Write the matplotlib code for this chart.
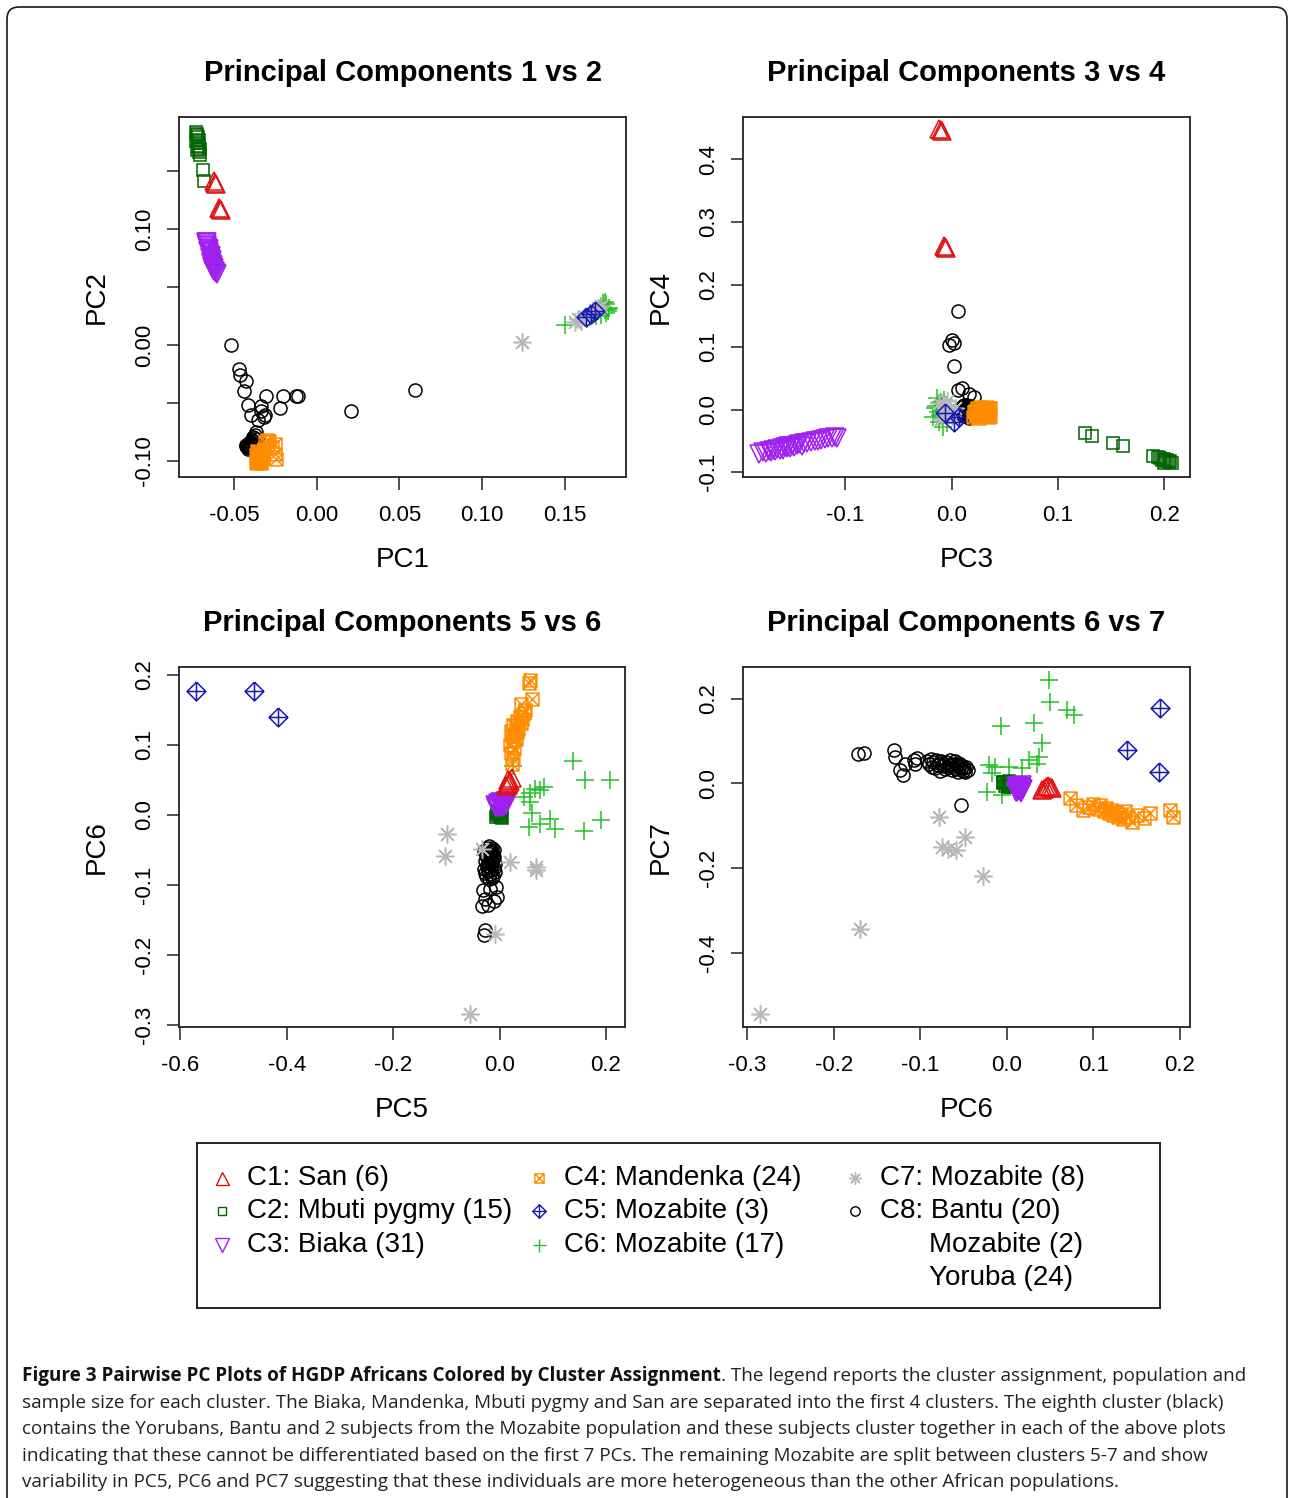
import numpy as np
import matplotlib.pyplot as plt
from matplotlib.path import Path
from matplotlib.patches import FancyBboxPatch

plt.rcParams['font.family'] = ['Liberation Sans', 'DejaVu Sans']

W, H = 1289, 1498

# PC scores per cluster (PC6 is shared by panels 3 and 4)
# C1: San (6)
c1_pc1 = [-0.0620, -0.0615, -0.0612, -0.0590, -0.0585, -0.0582]
c1_pc2 = [0.141, 0.140, 0.139, 0.118, 0.117, 0.116]
c1_pc3 = [-0.012, -0.010, -0.009, -0.007, -0.006, -0.005]
c1_pc4 = [0.449, 0.447, 0.445, 0.262, 0.260, 0.258]
c1_pc5 = [0.016, 0.020, 0.024, 0.012, 0.015, 0.018]
c1_pc6 = [0.050, 0.048, 0.052, 0.041, 0.043, 0.045]
c1_pc7 = [-0.008, -0.006, -0.010, -0.016, -0.012, -0.009]

# C2: Mbuti pygmy (15)
c2_pc1 = [-0.0730, -0.0726, -0.0722, -0.0718, -0.0714, -0.0728, -0.0720, -0.0712,
          -0.0716, -0.0708, -0.0724, -0.0710, -0.0705, -0.0690, -0.0682]
c2_pc2 = [0.184, 0.182, 0.181, 0.179, 0.177, 0.176, 0.174, 0.172, 0.171, 0.169,
          0.168, 0.166, 0.164, 0.151, 0.141]
c2_pc3 = [0.125, 0.132, 0.152, 0.161, 0.189, 0.194, 0.196, 0.198, 0.200, 0.201,
          0.203, 0.204, 0.205, 0.207, 0.200]
c2_pc4 = [-0.037, -0.042, -0.054, -0.058, -0.074, -0.076, -0.078, -0.080, -0.079,
          -0.082, -0.081, -0.084, -0.083, -0.085, -0.086]
c2_pc5 = [-0.006, -0.004, -0.002, 0.000, 0.002, 0.004, 0.005, -0.005, -0.001, 0.001,
          0.003, -0.003, 0.000, 0.002, -0.002]
c2_pc6 = [-0.004, 0.000, 0.004, -0.002, 0.002, 0.006, -0.005, 0.001, 0.003, 0.008,
          -0.003, 0.005, 0.010, -0.001, 0.002]
c2_pc7 = [0.004, -0.002, 0.001, -0.006, 0.005, -0.004, 0.002, -0.008, 0.000, -0.003,
          0.003, -0.009, -0.001, 0.004, -0.005]

# C3: Biaka (31)
c3_pc1 = [-0.0672, -0.0667, -0.0664, -0.0661, -0.0663, -0.0657, -0.0659, -0.0653,
          -0.0656, -0.0649, -0.0651, -0.0646, -0.0648, -0.0642, -0.0644, -0.0639,
          -0.0641, -0.0636, -0.0638, -0.0633, -0.0635, -0.0629, -0.0631, -0.0626,
          -0.0628, -0.0621, -0.0623, -0.0616, -0.0618, -0.0611, -0.0606]
c3_pc2 = [0.089, 0.088, 0.089, 0.086, 0.085, 0.084, 0.082, 0.083, 0.081, 0.079,
          0.080, 0.078, 0.076, 0.077, 0.075, 0.074, 0.072, 0.073, 0.071, 0.070,
          0.068, 0.069, 0.067, 0.066, 0.065, 0.066, 0.064, 0.063, 0.064, 0.062, 0.061]
c3_pc3 = [-0.181, -0.178, -0.175, -0.172, -0.170, -0.168, -0.166, -0.164, -0.162,
          -0.160, -0.159, -0.157, -0.155, -0.154, -0.152, -0.150, -0.148, -0.146,
          -0.144, -0.141, -0.139, -0.136, -0.132, -0.129, -0.126, -0.123, -0.119,
          -0.116, -0.113, -0.110, -0.108]
c3_pc4 = [-0.071, -0.068, -0.070, -0.066, -0.068, -0.064, -0.067, -0.063, -0.065,
          -0.061, -0.064, -0.060, -0.062, -0.059, -0.061, -0.058, -0.060, -0.056,
          -0.055, -0.058, -0.054, -0.053, -0.052, -0.050, -0.051, -0.048, -0.047,
          -0.046, -0.045, -0.044, -0.045]
c3_pc5 = [-0.008, -0.005, -0.003, 0.000, 0.002, 0.004, 0.006, 0.008, 0.010, 0.012,
          0.013, -0.006, -0.002, 0.001, 0.003, 0.005, 0.007, 0.009, 0.011, -0.004,
          -0.001, 0.002, 0.004, 0.006, 0.008, 0.010, 0.000, 0.005, 0.009, 0.003, 0.007]
c3_pc6 = [0.014, 0.012, 0.016, 0.011, 0.015, 0.013, 0.017, 0.012, 0.016, 0.014,
          0.018, 0.010, 0.015, 0.013, 0.017, 0.011, 0.016, 0.014, 0.019, 0.012,
          0.015, 0.013, 0.017, 0.011, 0.016, 0.014, 0.018, 0.012, 0.015, 0.013, 0.016]
c3_pc7 = [-0.010, -0.014, -0.008, -0.018, -0.012, -0.006, -0.016, -0.020, -0.009,
          -0.013, -0.004, -0.017, -0.011, -0.007, -0.015, -0.021, -0.010, -0.005,
          -0.013, -0.019, -0.008, -0.012, -0.016, -0.006, -0.022, -0.011, -0.014,
          -0.009, -0.017, -0.007, -0.012]

# C4: Mandenka (24)
c4_pc1 = [-0.0368, -0.0362, -0.0355, -0.0350, -0.0345, -0.0340, -0.0336, -0.0366,
          -0.0358, -0.0352, -0.0347, -0.0330, -0.0325, -0.0360, -0.0343, -0.0338,
          -0.0320, -0.0310, -0.0300, -0.0290, -0.0270, -0.0255, -0.0250, -0.0248]
c4_pc2 = [-0.1020, -0.1000, -0.0980, -0.1010, -0.0960, -0.0990, -0.0940, -0.0950,
          -0.0970, -0.0925, -0.1005, -0.0985, -0.0930, -0.0915, -0.0960, -0.1015,
          -0.0900, -0.0840, -0.0820, -0.0830, -0.0880, -0.0850, -0.0940, -0.0980]
c4_pc3 = [0.020, 0.024, 0.028, 0.032, 0.036, 0.022, 0.026, 0.030, 0.034, 0.035,
          0.021, 0.025, 0.029, 0.033, 0.033, 0.023, 0.027, 0.031, 0.035, 0.036,
          0.026, 0.030, 0.034, 0.028]
c4_pc4 = [-0.012, 0.002, -0.006, 0.004, -0.010, -0.002, -0.013, 0.000, -0.008, 0.003,
          -0.004, -0.011, 0.001, -0.007, -0.001, -0.009, 0.004, -0.005, -0.012, 0.002,
          -0.003, -0.010, -0.006, 0.000]
c4_pc5 = [0.024, 0.026, 0.022, 0.028, 0.020, 0.025, 0.030, 0.023, 0.027, 0.032,
          0.021, 0.035, 0.030, 0.026, 0.040, 0.033, 0.042, 0.038, 0.045, 0.048,
          0.041, 0.060, 0.055, 0.058]
c4_pc6 = [0.073, 0.080, 0.088, 0.095, 0.100, 0.105, 0.108, 0.112, 0.115, 0.118,
          0.120, 0.123, 0.126, 0.128, 0.131, 0.134, 0.137, 0.140, 0.145, 0.150,
          0.158, 0.165, 0.188, 0.192]
c4_pc7 = [-0.035, -0.050, -0.063, -0.055, -0.048, -0.060, -0.052, -0.065, -0.058,
          -0.070, -0.062, -0.075, -0.068, -0.080, -0.072, -0.085, -0.066, -0.078,
          -0.090, -0.074, -0.082, -0.070, -0.063, -0.079]

# C5: Mozabite (3)
c5_pc1 = [0.163, 0.166, 0.168]
c5_pc2 = [0.024, 0.027, 0.029]
c5_pc3 = [-0.006, 0.002, 0.007]
c5_pc4 = [-0.005, -0.020, -0.012]
c5_pc5 = [-0.5705, -0.4608, -0.4168]
c5_pc6 = [0.177, 0.176, 0.139]
c5_pc7 = [0.179, 0.026, 0.079]

# C6: Mozabite (17)
c6_pc1 = [0.150, 0.165, 0.168, 0.170, 0.171, 0.172, 0.173, 0.174, 0.175, 0.176,
          0.177, 0.175, 0.173, 0.169, 0.172, 0.176, 0.174]
c6_pc2 = [0.017, 0.024, 0.027, 0.029, 0.031, 0.026, 0.033, 0.030, 0.035, 0.029,
          0.032, 0.028, 0.036, 0.025, 0.034, 0.031, 0.037]
c6_pc3 = [-0.018, -0.015, -0.012, -0.010, -0.008, -0.006, -0.014, -0.011, -0.005,
          -0.009, -0.016, -0.013, -0.007, -0.004, -0.012, -0.010, -0.008]
c6_pc4 = [-0.012, 0.005, -0.020, 0.012, -0.028, 0.000, 0.018, -0.008, 0.008, -0.015,
          0.002, -0.004, 0.015, -0.022, 0.010, -0.002, 0.004]
c6_pc5 = [0.138, 0.026, 0.160, 0.207, 0.083, 0.067, 0.075, 0.058, 0.045, 0.058,
          0.061, 0.095, 0.190, 0.075, 0.055, 0.105, 0.158]
c6_pc6 = [0.077, 0.069, 0.050, 0.049, 0.040, 0.037, 0.035, 0.031, 0.025, 0.018,
          0.002, -0.006, -0.007, -0.0135, -0.0177, -0.021, -0.023]
c6_pc7 = [0.161, 0.173, 0.193, 0.244, 0.095, 0.063, 0.047, 0.142, 0.055, 0.036,
          0.039, -0.028, 0.136, 0.039, 0.024, 0.043, -0.020]

# C7: Mozabite (8)
c7_pc1 = [0.124, 0.156, 0.158, 0.160, 0.162, 0.168, 0.170, 0.172]
c7_pc2 = [0.003, 0.020, 0.022, 0.021, 0.024, 0.030, 0.032, 0.034]
c7_pc3 = [-0.012, -0.008, -0.004, 0.000, 0.003, -0.010, -0.006, -0.002]
c7_pc4 = [0.010, -0.005, 0.014, -0.010, 0.002, -0.015, 0.006, -0.002]
c7_pc5 = [-0.099, -0.033, -0.102, 0.020, 0.068, 0.068, -0.008, -0.055]
c7_pc6 = [-0.028, -0.049, -0.059, -0.068, -0.075, -0.079, -0.170, -0.285]
c7_pc7 = [-0.218, -0.126, -0.158, -0.154, -0.150, -0.079, -0.343, -0.544]

# C8: Bantu (20), Mozabite (2), Yoruba (24)
c8_pc1 = [-0.0516, -0.0470, -0.0466, -0.0425, -0.0440, -0.0417, -0.0395, -0.0335,
          -0.0314, -0.0304, -0.0205, -0.0220, -0.0123, -0.0115, 0.0205, 0.0597,
          -0.0340, -0.0320, -0.0355, -0.0369, -0.0395, -0.0417, -0.0400, -0.0405,
          -0.0425, -0.0410, -0.0390, -0.0380, -0.0402, -0.0415, -0.0420, -0.0430,
          -0.0385, -0.0375, -0.0360, -0.0365, -0.0372, -0.0355, -0.0345, -0.0362,
          -0.0378, -0.0388, -0.0398, -0.0408, -0.0352, -0.0368]
c8_pc2 = [0.0000, -0.0210, -0.0260, -0.0310, -0.0400, -0.0517, -0.0600, -0.0530,
          -0.0600, -0.0440, -0.0440, -0.0540, -0.0440, -0.0440, -0.0566, -0.0388,
          -0.0570, -0.0620, -0.0650, -0.0747, -0.0834, -0.0860, -0.0890, -0.0850,
          -0.0870, -0.0880, -0.0820, -0.0800, -0.0840, -0.0900, -0.0880, -0.0860,
          -0.0790, -0.0780, -0.0810, -0.0850, -0.0870, -0.0890, -0.0920, -0.0900,
          -0.0860, -0.0830, -0.0845, -0.0870, -0.0950, -0.0930]
c8_pc3 = [0.0057, 0.0007, -0.0030, 0.0025, 0.0025, 0.0063, 0.0100, 0.0167, 0.0214,
          0.012, 0.014, 0.011, 0.015, 0.013, 0.016, 0.012, 0.010, 0.014, 0.017, 0.013,
          0.011, 0.015, 0.012, 0.016, 0.014, 0.010, 0.013, 0.018, 0.015, 0.011, 0.014,
          0.012, 0.016, 0.013, 0.017, 0.015, 0.012, 0.014, 0.011, 0.016, 0.013, 0.015,
          0.019, 0.012, 0.014, 0.016]
c8_pc4 = [0.157, 0.112, 0.104, 0.107, 0.069, 0.032, 0.035, 0.0245, 0.0197, 0.007,
          0.003, -0.002, 0.005, -0.006, 0.001, -0.009, 0.004, -0.004, 0.006, -0.011,
          0.000, -0.007, 0.003, -0.013, 0.002, -0.005, 0.008, -0.008, -0.001, 0.005,
          -0.010, 0.002, -0.003, 0.007, -0.012, 0.001, -0.006, 0.004, -0.009, 0.000,
          -0.004, 0.006, -0.002, -0.011, 0.003, -0.007]
c8_pc5 = [-0.030, -0.027, -0.033, -0.022, -0.010, -0.028, -0.005, -0.031, -0.018,
          -0.006, -0.020, -0.015, -0.025, -0.012, -0.018, -0.028, -0.008, -0.022,
          -0.016, -0.030, -0.011, -0.019, -0.024, -0.014, -0.009, -0.021, -0.017,
          -0.027, -0.013, -0.020, -0.023, -0.010, -0.016, -0.026, -0.012, -0.019,
          -0.022, -0.015, -0.018, -0.029, -0.011, -0.017, -0.024, -0.014, -0.020, -0.016]
c8_pc6 = [-0.172, -0.165, -0.131, -0.129, -0.124, -0.120, -0.118, -0.107, -0.106,
          -0.104, -0.092, -0.090, -0.088, -0.087, -0.085, -0.083, -0.082, -0.080,
          -0.079, -0.077, -0.076, -0.074, -0.073, -0.071, -0.070, -0.068, -0.067,
          -0.066, -0.064, -0.063, -0.062, -0.060, -0.059, -0.058, -0.057, -0.056,
          -0.055, -0.054, -0.053, -0.052, -0.051, -0.050, -0.048, -0.047, -0.045, -0.053]
c8_pc7 = [0.069, 0.072, 0.079, 0.063, 0.031, 0.020, 0.045, 0.055, 0.047, 0.060,
          0.052, 0.045, 0.058, 0.040, 0.050, 0.036, 0.055, 0.043, 0.048, 0.030,
          0.053, 0.041, 0.046, 0.034, 0.050, 0.038, 0.044, 0.056, 0.032, 0.047,
          0.040, 0.052, 0.035, 0.043, 0.049, 0.028, 0.038, 0.045, 0.033, 0.041,
          0.030, 0.036, 0.027, 0.039, 0.031, -0.050]

legend_labels = ['C1: San (6)', 'C2: Mbuti pygmy (15)', 'C3: Biaka (31)',
                 'C4: Mandenka (24)', 'C5: Mozabite (3)', 'C6: Mozabite (17)',
                 'C7: Mozabite (8)', 'C8: Bantu (20)']
c8_extra = ['Mozabite (2)', 'Yoruba (24)']

panel_titles = ['Principal Components 1 vs 2', 'Principal Components 3 vs 4',
                'Principal Components 5 vs 6', 'Principal Components 6 vs 7']

caption_bold = 'Figure 3 Pairwise PC Plots of HGDP Africans Colored by Cluster Assignment'
caption_lines = [
    '. The legend reports the cluster assignment, population and',
    'sample size for each cluster. The Biaka, Mandenka, Mbuti pygmy and San are separated into the first 4 clusters. The eighth cluster (black)',
    'contains the Yorubans, Bantu and 2 subjects from the Mozabite population and these subjects cluster together in each of the above plots',
    'indicating that these cannot be differentiated based on the first 7 PCs. The remaining Mozabite are split between clusters 5-7 and show',
    'variability in PC5, PC6 and PC7 suggesting that these individuals are more heterogeneous than the other African populations.',
]

# ---------------------------------------------------------------------------
MV, LN = Path.MOVETO, Path.LINETO
box_x = Path([(-1, -1), (1, -1), (1, 1), (-1, 1), (-1, -1), (-1, -1), (1, 1), (-1, 1), (1, -1)],
             [MV, LN, LN, LN, LN, MV, LN, MV, LN])
diamond_plus = Path([(0, 1), (1, 0), (0, -1), (-1, 0), (0, 1), (-1, 0), (1, 0), (0, -1), (0, 1)],
                    [MV, LN, LN, LN, LN, MV, LN, MV, LN])

pcs = {
    1: [c1_pc1, c1_pc2, c1_pc3, c1_pc4, c1_pc5, c1_pc6, c1_pc7],
    2: [c2_pc1, c2_pc2, c2_pc3, c2_pc4, c2_pc5, c2_pc6, c2_pc7],
    3: [c3_pc1, c3_pc2, c3_pc3, c3_pc4, c3_pc5, c3_pc6, c3_pc7],
    4: [c4_pc1, c4_pc2, c4_pc3, c4_pc4, c4_pc5, c4_pc6, c4_pc7],
    5: [c5_pc1, c5_pc2, c5_pc3, c5_pc4, c5_pc5, c5_pc6, c5_pc7],
    6: [c6_pc1, c6_pc2, c6_pc3, c6_pc4, c6_pc5, c6_pc6, c6_pc7],
    7: [c7_pc1, c7_pc2, c7_pc3, c7_pc4, c7_pc5, c7_pc6, c7_pc7],
    8: [c8_pc1, c8_pc2, c8_pc3, c8_pc4, c8_pc5, c8_pc6, c8_pc7],
}

# colour, marker, marker size (pt)
style = {
    1: ('#e01010', '^', 13),
    2: ('#006400', 's', 8.8),
    3: ('#a020f0', 'v', 13.5),
    4: ('#ff8c00', box_x, 9.2),
    5: ('#1a1ab8', diamond_plus, 13.5),
    6: ('#22c022', '+', 13),
    7: ('#b8b8b8', (8, 2, 0), 13),
    8: ('#000000', 'o', 9.4),
}
draw_order = [8, 6, 7, 5, 2, 3, 4, 1]

fig = plt.figure(figsize=(W / 100, H / 100), dpi=100)


def add_box(l, t, r, b):
    return fig.add_axes([l / W, 1 - b / H, (r - l) / W, (b - t) / H])


panels = [
    dict(box=(179, 117, 626, 477), pair=(0, 1), xlim=(-0.0833, 0.187), ylim=(-0.1138, 0.1966),
         xticks=[-0.05, 0, 0.05, 0.10, 0.15], xlab=['-0.05', '0.00', '0.05', '0.10', '0.15'],
         yticks=[-0.10, -0.05, 0, 0.05, 0.10, 0.15], ylab=['-0.10', '', '0.00', '', '0.10', '']),
    dict(box=(743, 117, 1190, 477), pair=(2, 3), xlim=(-0.1964, 0.2242), ylim=(-0.108, 0.468),
         xticks=[-0.1, 0, 0.1, 0.2], xlab=['-0.1', '0.0', '0.1', '0.2'],
         yticks=[-0.1, 0, 0.1, 0.2, 0.3, 0.4], ylab=['-0.1', '0.0', '0.1', '0.2', '0.3', '0.4']),
    dict(box=(179, 667, 625, 1027), pair=(4, 5), xlim=(-0.6026, 0.2357), ylim=(-0.3034, 0.211),
         xticks=[-0.6, -0.4, -0.2, 0, 0.2], xlab=['-0.6', '-0.4', '-0.2', '0.0', '0.2'],
         yticks=[-0.3, -0.2, -0.1, 0, 0.1, 0.2], ylab=['-0.3', '-0.2', '-0.1', '0.0', '0.1', '0.2']),
    dict(box=(743, 667, 1190, 1027), pair=(5, 6), xlim=(-0.305, 0.2116), ylim=(-0.575, 0.275),
         xticks=[-0.3, -0.2, -0.1, 0, 0.1, 0.2], xlab=['-0.3', '-0.2', '-0.1', '0.0', '0.1', '0.2'],
         yticks=[-0.4, -0.2, 0, 0.2], ylab=['-0.4', '-0.2', '0.0', '0.2']),
]

for p, title in zip(panels, panel_titles):
    ax = add_box(*p['box'])
    i, j = p['pair']
    for c in draw_order:
        col, mk, ms = style[c]
        ax.plot(pcs[c][i], pcs[c][j], ls='none', marker=mk, ms=ms, mfc='none',
                mec=col, mew=1.1)
    ax.set_xlim(p['xlim'])
    ax.set_ylim(p['ylim'])
    ax.set_xticks(p['xticks'])
    ax.set_xticklabels(p['xlab'])
    ax.set_yticks(p['yticks'])
    ax.set_yticklabels(p['ylab'])
    ax.tick_params(direction='out', length=9, width=1.1, color='#222222', labelsize=16)
    ax.tick_params(axis='x', pad=11)
    ax.tick_params(axis='y', pad=8)
    for lbl in ax.get_yticklabels():
        lbl.set_rotation(90)
        lbl.set_va('center')
    for s in ax.spines.values():
        s.set_linewidth(1.3)
        s.set_color('#222222')
    ax.set_title(title, fontsize=21, fontweight='bold', pad=26)
    ax.set_xlabel('PC%d' % (i + 1), fontsize=20)
    ax.set_ylabel('PC%d' % (j + 1), fontsize=20)
    w_px = p['box'][2] - p['box'][0]
    h_px = p['box'][3] - p['box'][1]
    ax.xaxis.set_label_coords(0.5, -83 / h_px)
    ax.xaxis.label.set_va('center')
    ax.yaxis.set_label_coords(-82 / w_px, 0.5)
    ax.yaxis.label.set_va('center')

# legend box
lg = add_box(197, 1143, 1160, 1308)
lg.set_xlim(0, 963)
lg.set_ylim(165, 0)
lg.set_xticks([])
lg.set_yticks([])
for s in lg.spines.values():
    s.set_linewidth(1.4)
    s.set_color('#222222')
col_x = [25, 342, 658]
row_y = [35, 68, 102, 135]
slots = [(0, 0), (0, 1), (0, 2), (1, 0), (1, 1), (1, 2), (2, 0), (2, 1)]
for c, (cx, ry), text in zip(range(1, 9), slots, legend_labels):
    col, mk, ms = style[c]
    lg.plot(col_x[cx], row_y[ry], ls='none', marker=mk, ms=ms * 0.72, mfc='none',
            mec=col, mew=1.0)
    lg.text(col_x[cx] + 25, row_y[ry], text, fontsize=20, va='center', ha='left')
for k, text in enumerate(c8_extra):
    lg.text(col_x[2] + 74, row_y[2 + k], text, fontsize=20, va='center', ha='left')

# caption
cap_font = ['Open Sans', 'DejaVu Sans']
cap_y = [1376, 1403, 1429, 1456, 1482]
cap_size = 13.6
t0 = fig.text(22 / W, 1 - cap_y[0] / H, caption_bold, fontsize=cap_size, fontweight='bold',
              family=cap_font, va='center', ha='left', color='#111111')
renderer = fig.canvas.get_renderer()
x_end = t0.get_window_extent(renderer).x1
fig.text(x_end / W, 1 - cap_y[0] / H, caption_lines[0], fontsize=cap_size, family=cap_font,
         va='center', ha='left', color='#222222')
for y, line in zip(cap_y[1:], caption_lines[1:]):
    fig.text(22 / W, 1 - y / H, line, fontsize=cap_size, family=cap_font, va='center',
             ha='left', color='#222222')

# outer rounded frame
frame = FancyBboxPatch((7, -30), 1280, H - 7 + 30, boxstyle='round,pad=0,rounding_size=12',
                       transform=None, fc='none', ec='#1a1a1a', lw=1.2)
fig.add_artist(frame)

fig.savefig('out.png', dpi=100)
